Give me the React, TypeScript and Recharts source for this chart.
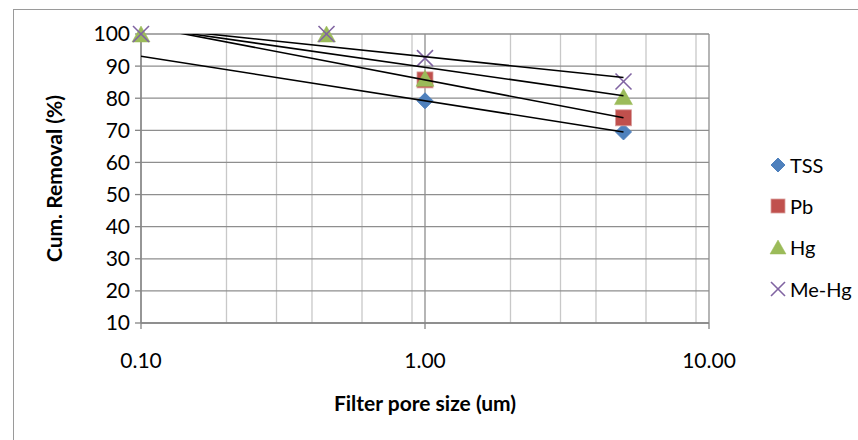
import React from "react";
import {
  ScatterChart,
  Scatter,
  XAxis,
  YAxis,
  CartesianGrid,
} from "recharts";

const poreSize = [0.1, 0.45, 1, 5];
const tss = [null, null, 79.2, 69.5];
const pb = [null, null, 85.7, 73.9];
const hg = [100, 100, 86.2, 80.5];
const meHg = [100, 100, 92.5, 85.2];

const seriesNames = ["TSS", "Pb", "Hg", "Me-Hg"];
const seriesValues = [tss, pb, hg, meHg];
const seriesColors = ["#4F81BD", "#C0504D", "#9BBB59", "#8064A2"];

const xTicks = [0.1, 1, 10];
const minorXTicks = [0.2, 0.3, 0.4, 0.5, 0.6, 0.7, 0.8, 0.9, 2, 3, 4, 5, 6, 7, 8, 9];
const yTicks = [10, 20, 30, 40, 50, 60, 70, 80, 90, 100];

const FONT = "Lato, 'Open Sans', sans-serif";

type Pt = { x: number; y: number };

function toPoints(values: (number | null)[]): Pt[] {
  const out: Pt[] = [];
  values.forEach((v, i) => {
    if (v !== null) out.push({ x: poreSize[i], y: v });
  });
  return out;
}

// logarithmic trendline y = a*ln(x) + b, drawn over the full x range
function logTrend(points: Pt[]): Pt[] {
  const n = points.length;
  const lx = points.map((p) => Math.log(p.x));
  const mx = lx.reduce((s, v) => s + v, 0) / n;
  const my = points.reduce((s, p) => s + p.y, 0) / n;
  let sxy = 0;
  let sxx = 0;
  points.forEach((p, i) => {
    sxy += (lx[i] - mx) * (p.y - my);
    sxx += (lx[i] - mx) * (lx[i] - mx);
  });
  const a = sxy / sxx;
  const b = my - a * mx;
  const x0 = Math.min(...poreSize);
  const x1 = Math.max(...poreSize);
  return [x0, x1].map((x) => ({ x, y: a * Math.log(x) + b }));
}

function Marker({ kind, cx, cy, color, s }: { kind: number; cx: number; cy: number; color: string; s: number }) {
  if (kind === 0) {
    return (
      <path
        d={`M${cx},${cy - s}L${cx + s},${cy}L${cx},${cy + s}L${cx - s},${cy}Z`}
        fill={color}
        stroke={color}
      />
    );
  }
  if (kind === 1) {
    return (
      <rect x={cx - s} y={cy - s} width={s * 2} height={s * 2} fill={color} stroke="#D9A09E" strokeWidth={0.8} />
    );
  }
  if (kind === 2) {
    return (
      <path
        d={`M${cx},${cy - s}L${cx + s + 1},${cy + s}L${cx - s - 1},${cy + s}Z`}
        fill={color}
        stroke={color}
        strokeWidth={0.5}
      />
    );
  }
  return (
    <g stroke={color} strokeWidth={1.6}>
      <line x1={cx - s} y1={cy - s} x2={cx + s} y2={cy + s} />
      <line x1={cx - s} y1={cy + s} x2={cx + s} y2={cy - s} />
    </g>
  );
}

export default function App() {
  const series = seriesValues.map((vals, i) => {
    const pts = toPoints(vals);
    return { name: seriesNames[i], color: seriesColors[i], points: pts, trend: logTrend(pts) };
  });

  return (
    <div
      style={{
        position: "absolute",
        left: 0,
        top: 0,
        width: 858,
        height: 440,
        overflow: "hidden",
        background: "#fff",
        fontFamily: FONT,
      }}
    >
      <div
        style={{
          position: "absolute",
          left: 13,
          top: 9,
          width: 900,
          height: 500,
          border: "1px solid #9A9A9A",
        }}
      />
      <ScatterChart
        width={858}
        height={440}
        margin={{ top: 34, right: 149, bottom: 17, left: 31 }}
        style={{ position: "absolute", left: 0, top: 0 }}
      >
        <CartesianGrid horizontal={false} verticalValues={minorXTicks} stroke="#C8C8C8" strokeWidth={1.3} />
        <CartesianGrid stroke="#8E8E8E" strokeWidth={1.3} />
        <XAxis
          dataKey="x"
          type="number"
          scale="log"
          domain={[0.1, 10]}
          ticks={xTicks}
          allowDataOverflow
          height={100}
          tickFormatter={(v: number) => v.toFixed(2)}
          tick={{ fill: "#000", fontSize: 21, fontFamily: FONT }}
          tickSize={6}
          tickMargin={24}
          stroke="#868686"
          strokeWidth={1.3}
          label={{
            value: "Filter pore size (um)",
            position: "insideBottom",
            offset: 12,
            style: { fill: "#000", fontSize: 21, fontWeight: 700, fontFamily: FONT },
          }}
        />
        <YAxis
          dataKey="y"
          type="number"
          domain={[10, 100]}
          ticks={yTicks}
          allowDataOverflow
          width={110}
          tick={{ fill: "#000", fontSize: 21, fontFamily: FONT }}
          tickSize={6}
          tickMargin={5}
          stroke="#868686"
          strokeWidth={1.3}
          label={{
            value: "Cum. Removal (%)",
            angle: -90,
            position: "insideLeft",
            offset: 24,
            style: { textAnchor: "middle", fill: "#000", fontSize: 21, fontWeight: 700, fontFamily: FONT },
          }}
        />
        {/* unclipped twin axes so markers at the plot edge stay whole */}
        <XAxis xAxisId="pts" dataKey="x" type="number" scale="log" domain={[0.1, 10]} hide />
        <YAxis yAxisId="pts" dataKey="y" type="number" domain={[10, 100]} hide />
        {series.map((s, i) => (
          <Scatter
            key={s.name}
            name={s.name}
            data={s.points}
            xAxisId="pts"
            yAxisId="pts"
            isAnimationActive={false}
            shape={(p: any) => <Marker kind={i} cx={p.cx} cy={p.cy} color={s.color} s={8} />}
          />
        ))}
        {series.map((s) => (
          <Scatter
            key={`${s.name}-trend`}
            data={s.trend}
            isAnimationActive={false}
            legendType="none"
            line={{ stroke: "#000", strokeWidth: 1.6 }}
            shape={() => <g />}
          />
        ))}
      </ScatterChart>
      <div style={{ position: "absolute", left: 768, top: 144 }}>
        {series.map((s, i) => (
          <div
            key={s.name}
            style={{ display: "flex", alignItems: "center", height: 41.3, fontSize: 20, color: "#000" }}
          >
            <svg width={20} height={20} style={{ marginRight: 2 }}>
              <Marker kind={i} cx={10} cy={10} color={s.color} s={7} />
            </svg>
            <span>{s.name}</span>
          </div>
        ))}
      </div>
    </div>
  );
}
